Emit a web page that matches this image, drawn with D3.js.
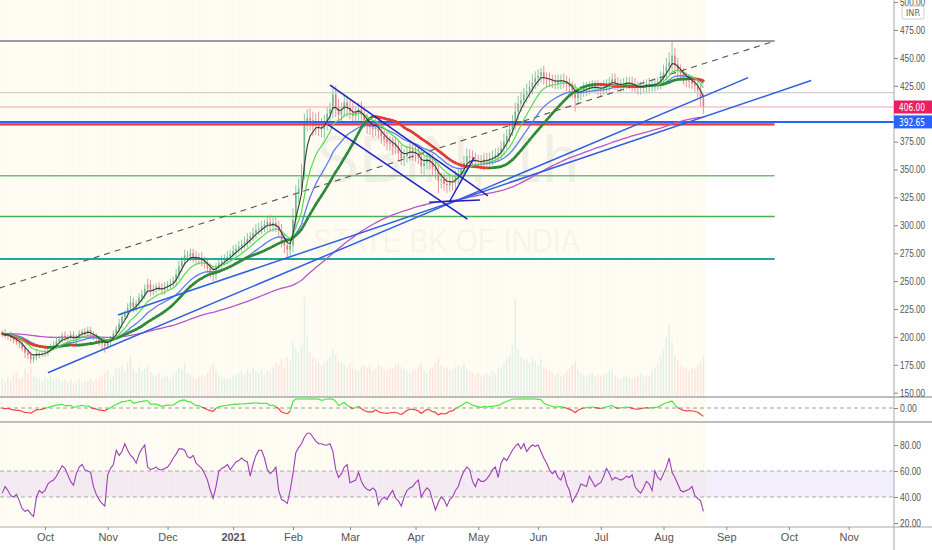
<!DOCTYPE html>
<html><head><meta charset="utf-8">
<script src="https://cdn.jsdelivr.net/npm/d3@7"></script>
<style>
body{margin:0;background:#fff;}
svg{display:block;font-family:"Liberation Sans Narrow","DejaVu Sans Condensed","Liberation Sans",sans-serif;}
</style></head><body>
<svg id="chart" width="932" height="550"></svg>
<script>
// one bar per weekday, from 10 Sep 2020 to 20 Aug 2021
var closes = [
 203,201,202,199,197, 195,194,190,186,184, 180,182,185,184,185,
 186,188,191,193,196, 198,201,199,200,202, 198,200,203,205,204, 206,203,200,199,196,
 194,192,195,198,203, 207,212,218,221,226, 231,227,230,235,238, 243,247,241,243,245,
 244,242,245,247,248, 250,256,263,268,273, 272,275,272,270,271, 268,266,262,259,256,
 262,266,268,270,272, 274,277,279,281,283, 285,288,290,293,296, 297,299,301,303,300,
 302,299,295,286,282, 278,282,305,328,333, 345,392,396,394,389, 393,388,386,392,400,
 404,417,406,399,404, 410,405,402,398,401, 404,399,394,390,388, 386,390,384,380,377,
 374,373,371,370,365, 360,362,365,367,366, 364,361,353,356,359, 357,352,349,340,341,
 337,336,339,338,343, 346,350,356,362,361, 359,358,357,356,359, 358,360,361,363,365,
 369,375,380,386,392, 402,409,412,417,420, 424,428,432,434,437, 432,431,430,429,428,
 429,430,429,427,424, 421,414,418,420,422, 423,424,425,424,423, 422,424,426,428,431,
 427,425,426,427,428, 428,426,424,423,424, 425,426,425,426,427, 428,432,437,442,446,
 452,444,439,436,432, 430,429,427,425,421, 414,406
];
var upperWick = [
 3,4,2,3,3,4,2,3,3,2, 3,2,3,2,3,3,2,3,3,4, 3,3,4,2,3,3,2,3,2,3, 3,3,2,3,2,3,2,3,3,3,
 3,4,4,3,4,6,4,3,4,4, 4,5,4,4,3,4,4,4,3,4, 4,5,5,4,5,4,4,4,5,4, 5,4,5,4,5,4,5,5,4,5,
 4,5,4,5,4,5,5,4,5,5, 5,5,4,5,6,5,5,5,6,5, 6,5,10,8,9,10,8,8,9,8, 7,9,8,7,6,6,9,8,7,6,
 7,6,7,8,6,6,7,8,6,6, 6,6,7,6,6,7,6,6,7,6, 7,6,6,7,6,6,7,6,6,7, 6,7,6,7,6,6,6,7,6,6,
 6,7,6,7,6,6,6,5,6,6, 6,5,6,6,5,6,7,6,7,7, 8,7,7,6,7,6,7,6,6,4, 6,5,6,5,6,6,5,6,5,5,
 5,6,5,5,6,5,5,5,5,6, 5,6,5,5,5,5,6,5,5,5, 5,5,6,5,5,5,5,6,5,5, 5,6,7,8,9,13,7,6,5,5,
 5,5,5,4,5,5,4
];
var lowerWick = [
 3,2,4,3,3,2,4,3,5,4, 4,3,3,3,2,3,3,2,3,2, 2,3,3,4,3,3,4,2,3,3, 3,4,3,3,4,5,6,3,3,2,
 3,3,4,3,4,4,5,4,3,4, 4,4,5,4,4,3,4,4,3,4, 4,4,5,5,4,5,4,5,4,5, 5,5,4,6,6,5,4,5,4,5,
 5,4,5,4,5,4,5,5,4,5, 5,5,5,6,5,6,5,6,6,7, 8,6,6,9,8,6,4,8,9,9, 8,8,7,8,7,7,8,9,8,7,
 7,8,7,8,7,8,6,7,8,7, 7,6,6,7,6,7,6,8,6,7, 6,7,6,7,8,7,6,7,8,6, 7,7,8,11,7,6,7,6,7,6,
 6,6,6,7,6,6,7,6,6,7, 6,6,6,5,6,6,6,7,6,6, 7,8,7,6,7,6,7,6,7,6, 6,7,6,6,6,6,7,6,7,7,
 7,12,6,6,5,6,6,5,6,6, 6,5,6,6,6,6,5,6,6,5, 6,6,5,6,6,5,6,6,5,6, 6,6,6,7,7,8,8,7,6,6,
 6,6,5,6,6,8,6
];
var volumes = [
 18,15,20,16,22,25,18,20,28,24, 30,22,20,18,16,20,18,22,17,19, 20,16,18,15,17,14,16,18,15,17,
 16,18,15,17,20,22,24,26,18,20, 30,28,32,26,35,40,28,24,30,26, 28,32,25,22,20,24,18,20,22,19,
 22,26,30,28,34,24,22,20,18,20, 22,20,24,30,34,26,22,20,18,19, 18,20,22,24,26,22,28,24,30,26,
 24,28,22,26,24,30,34,32,38,30, 40,36,55,48,44,52,100,60,45,40, 38,35,32,34,36,40,48,42,36,34,
 32,30,34,30,28,26,30,32,28,30, 26,28,32,30,28,26,30,28,32,34, 30,28,26,24,26,28,30,34,26,24,
 28,30,34,40,32,28,30,26,28,30, 32,30,34,28,26,24,22,24,20,22, 24,22,26,24,28,30,34,38,42,52,
 98,48,40,36,38,34,40,36,32,38, 30,28,26,24,22,24,20,22,26,28, 32,36,28,24,22,20,22,24,20,22,
 20,22,24,26,28,22,20,18,20,22, 20,18,20,22,24,20,22,20,26,30, 34,40,48,60,72,55,42,36,32,30,
 28,26,30,28,32,36,40
];
var rsiValues = [
 43,48,45,41,40,42,37,31,29,30,27,25,40,45,43,
 45,50,52,53,56,60,64,62,57,52, 49,58,63,65,61,60,59,48,42,38, 35,33,57,62,65,76,72,75,81,76,
 72,70,66,73,77,80,63,61,62,63, 61,61,62,63,66,70,73,77,77,76, 71,70,72,66,64,62,58,53,45,39,
 48,60,62,63,65,61,64,67,68,70, 68,67,56,65,72,76,76,70,61,58, 60,63,45,38,37,35,45,58,74,78,
 81,86,89,89,86,83,81,81,80,80, 81,75,61,55,58,63,65,51,52,53, 59,52,48,46,45,47,45,34,38,40,
 38,42,45,39,37,33,40,45,47,48, 51,53,40,44,47,45,37,30,36,40, 38,33,38,40,45,48,55,60,63,61,
 52,48,54,52,52,54,57,61,63,55, 66,70,68,72,76,79,81,77,81,75, 78,80,79,80,75,70,66,61,58,60,
 55,53,59,50,45,36,40,44,50,49, 48,56,52,48,50,51,56,62,58,53, 55,54,53,54,56,55,57,48,45,43,
 47,52,50,45,60,55,53,58,63,70, 59,55,50,45,44,45,46,48,41,39, 37,29
];
// 400.00 is hidden behind the price tags in the reference
var priceTicks = [150, 175, 200, 225, 250, 275, 300, 325, 350, 375, 425, 450, 475, 500];
var rsiTicks = [20, 40, 60, 80];
// drawings, as [bar, price] pairs
var levelPrices = [465.1, 390.5, 344.3, 307.9, 269.8];
var levelSpan = [-1, 271];
var fullWidthLevels = [418.8, 406.0, 392.65];
var dashedTrend = [-1, 243.8, 271, 465.1];
var supportLines = [[16, 167.9, 261.7, 432.3], [40.6, 219.6, 283.8, 429.7]];
var channelLines = [[115, 425.7, 170.4, 326.3], [114.4, 389.9, 163.2, 305.6], [149.8, 320.6, 167.6, 322.7], [156.9, 321.1, 165.6, 360.9]];
var lastPrice = 406.00, markedLevel = 392.65;

var dates = d3.timeDay.range(new Date(2020, 8, 10), new Date(2021, 10, 20))
	.filter(function(d){ return d.getDay() !== 0 && d.getDay() !== 6; });

var n = closes.length;
var bars = closes.map(function(c, i){
	var o = i ? closes[i-1] : c;
	return {k: i, o: o, c: c, h: Math.max(o, c) + upperWick[i], l: Math.min(o, c) - lowerWick[i], v: volumes[i], up: c >= o};
});

function ema(arr, p){
	var a = 2/(p+1), prev = arr[0];
	return arr.map(function(v, i){ prev = i ? prev + a*(v - prev) : v; return prev; });
}
function sma(arr, p){
	return arr.map(function(v, i){ return d3.mean(arr.slice(Math.max(0, i-p+1), i+1)); });
}
var fast = ema(closes, 4), mid = ema(closes, 10), blueLine = ema(closes, 20), slowLine = sma(closes, 25), longLine = ema(closes, 120);
var osc = closes.map(function(c, i){ return c - mid[i]; });

var W = 894;
var x = d3.scaleLinear().domain([15, 232]).range([45, 663.5]);
var y = d3.scaleLinear().domain([150, 475]).range([392.7, 30]);
var yVol = d3.scaleLinear().domain([0, 100]).range([397, 297]);
var oscSpan = d3.quantile(osc.map(Math.abs).sort(d3.ascending), 0.92);
var yOsc = d3.scaleLinear().domain([-oscSpan, oscSpan]).range([417, 399]).clamp(true);
var yRsi = d3.scaleLinear().domain([20, 80]).range([523, 445]);

var svg = d3.select("#chart");
var defs = svg.append("defs");
defs.append("clipPath").attr("id", "mainClip").append("rect").attr("x", 0).attr("y", 0).attr("width", W).attr("height", 397);
defs.append("clipPath").attr("id", "rsiClip").append("rect").attr("x", 0).attr("y", 422).attr("width", W).attr("height", 105);

// session background
var lastX = x(n - 1) + 3;
svg.append("rect").attr("x", 0).attr("y", 0).attr("width", lastX).attr("height", 527).attr("fill", "#fffcf4");
svg.append("g").selectAll("line").data(bars).enter().append("line")
	.attr("x1", function(d){ return x(d.k); }).attr("x2", function(d){ return x(d.k); })
	.attr("y1", 0).attr("y2", 527)
	.attr("stroke", "#000").attr("stroke-opacity", function(d){ return d.k % 3 ? 0.014 : 0.03; }).attr("stroke-width", 0.6);

// watermark
svg.append("text").attr("x", 447).attr("y", 182).attr("text-anchor", "middle")
	.attr("font-family", "Liberation Sans, Arial, sans-serif").attr("font-size", 66)
	.attr("fill", "#000").attr("fill-opacity", 0.05).text("SBIN, 1h");
svg.append("text").attr("x", 313).attr("y", 252)
	.attr("font-family", "Liberation Sans, Arial, sans-serif").attr("font-size", 33)
	.attr("textLength", 267).attr("lengthAdjust", "spacingAndGlyphs")
	.attr("fill", "#000").attr("fill-opacity", 0.05).text("STATE BK OF INDIA");

var main = svg.append("g").attr("clip-path", "url(#mainClip)");

// volume
main.append("g").selectAll("rect").data(bars).enter().append("rect")
	.attr("x", function(d){ return x(d.k) - 0.8; }).attr("width", 1.6)
	.attr("y", function(d){ return yVol(d.v); })
	.attr("height", function(d){ return yVol(0) - yVol(d.v); })
	.attr("fill", function(d){ return d.up ? "#26a69a" : "#ef5350"; }).attr("fill-opacity", 0.12);

// candles
var candle = main.append("g").selectAll("g").data(bars).enter().append("g");
candle.append("line")
	.attr("x1", function(d){ return x(d.k); }).attr("x2", function(d){ return x(d.k); })
	.attr("y1", function(d){ return y(d.h); }).attr("y2", function(d){ return y(d.l); })
	.attr("stroke", function(d){ return d.up ? "#6fb98c" : "#e07a88"; }).attr("stroke-width", 0.8);
candle.append("rect")
	.attr("x", function(d){ return x(d.k) - 0.8; }).attr("width", 1.6)
	.attr("y", function(d){ return y(Math.max(d.o, d.c)); })
	.attr("height", function(d){ return Math.max(0.8, Math.abs(y(d.o) - y(d.c))); })
	.attr("fill", function(d){ return d.up ? "#6fb98c" : "#e07a88"; });

// levels
main.append("line").attr("x1", 0).attr("x2", W).attr("y1", y(fullWidthLevels[0])).attr("y2", y(fullWidthLevels[0])).attr("stroke", "#c4c4c4").attr("stroke-width", 1);
main.append("line").attr("x1", 0).attr("x2", W).attr("y1", y(fullWidthLevels[1])).attr("y2", y(fullWidthLevels[1])).attr("stroke", "#f3a3b6").attr("stroke-width", 1);
var levelColors = ["#787b86", "#e53935", "#6cbf6c", "#4caf50", "#26a69a"];
var levelWidths = [1.5, 2.2, 1.5, 1.5, 2];
main.append("g").selectAll("line").data(levelPrices).enter().append("line")
	.attr("x1", x(levelSpan[0])).attr("x2", x(levelSpan[1]))
	.attr("y1", function(d){ return y(d); }).attr("y2", function(d){ return y(d); })
	.attr("stroke", function(d, i){ return levelColors[i]; })
	.attr("stroke-width", function(d, i){ return levelWidths[i]; });
main.append("line").attr("x1", 0).attr("x2", W).attr("y1", y(fullWidthLevels[2])).attr("y2", y(fullWidthLevels[2])).attr("stroke", "#2962ff").attr("stroke-width", 2);
main.append("line")
	.attr("x1", x(dashedTrend[0])).attr("y1", y(dashedTrend[1]))
	.attr("x2", x(dashedTrend[2])).attr("y2", y(dashedTrend[3]))
	.attr("stroke", "#555").attr("stroke-width", 1.1).attr("stroke-dasharray", "6,5");

// moving averages
function lineOf(vals){
	return d3.line().x(function(d, i){ return x(i); }).y(function(d){ return y(d); })(vals);
}
main.append("path").attr("d", lineOf(longLine)).attr("fill", "none").attr("stroke", "#b458c8").attr("stroke-width", 1.3);
main.append("path").attr("d", lineOf(blueLine)).attr("fill", "none").attr("stroke", "#5b7fe8").attr("stroke-width", 1.3);
var segs = d3.range(1, n);
main.append("g").selectAll("line").data(segs).enter().append("line")
	.attr("x1", function(i){ return x(i-1); }).attr("y1", function(i){ return y(slowLine[i-1]); })
	.attr("x2", function(i){ return x(i); }).attr("y2", function(i){ return y(slowLine[i]); })
	.attr("stroke", function(i){ return slowLine[i] >= slowLine[i-1] ? "#2e8b3a" : "#e53935"; })
	.attr("stroke-width", 2.6).attr("stroke-linecap", "round");
main.append("path").attr("d", lineOf(mid)).attr("fill", "none").attr("stroke", "#4ee04e").attr("stroke-width", 1.2);
main.append("path").attr("d", lineOf(fast)).attr("fill", "none").attr("stroke", "#3a3a3a").attr("stroke-width", 1.1);

// trend lines
main.append("g").selectAll("line").data(supportLines).enter().append("line")
	.attr("x1", function(d){ return x(d[0]); }).attr("y1", function(d){ return y(d[1]); })
	.attr("x2", function(d){ return x(d[2]); }).attr("y2", function(d){ return y(d[3]); })
	.attr("stroke", "#2f5fe0").attr("stroke-width", 1.5);
main.append("g").selectAll("line").data(channelLines).enter().append("line")
	.attr("x1", function(d){ return x(d[0]); }).attr("y1", function(d){ return y(d[1]); })
	.attr("x2", function(d){ return x(d[2]); }).attr("y2", function(d){ return y(d[3]); })
	.attr("stroke", "#1c22c4").attr("stroke-width", 1.5);

// oscillator pane
svg.append("line").attr("x1", 0).attr("x2", W).attr("y1", yOsc(0)).attr("y2", yOsc(0)).attr("stroke", "#888").attr("stroke-dasharray", "4,3").attr("stroke-width", 0.8);
svg.append("g").selectAll("line").data(segs).enter().append("line")
	.attr("x1", function(i){ return x(i-1); }).attr("y1", function(i){ return yOsc(osc[i-1]); })
	.attr("x2", function(i){ return x(i); }).attr("y2", function(i){ return yOsc(osc[i]); })
	.attr("stroke", function(i){ return osc[i] >= 0 ? "#3ee83e" : "#f03a3a"; })
	.attr("stroke-width", 1.2);

// rsi pane
var rsiG = svg.append("g").attr("clip-path", "url(#rsiClip)");
rsiG.append("rect").attr("x", 0).attr("width", W).attr("y", yRsi(60)).attr("height", yRsi(40) - yRsi(60)).attr("fill", "#8e5bd8").attr("fill-opacity", 0.1);
rsiG.selectAll(".band").data([60, 40]).enter().append("line")
	.attr("x1", 0).attr("x2", W).attr("y1", function(d){ return yRsi(d); }).attr("y2", function(d){ return yRsi(d); })
	.attr("stroke", "#999").attr("stroke-dasharray", "4,3").attr("stroke-width", 0.8);
rsiG.append("path").attr("d", d3.line().x(function(d, i){ return x(i); }).y(function(d){ return yRsi(d); })(rsiValues))
	.attr("fill", "none").attr("stroke", "#9b3fb5").attr("stroke-width", 1.1);

// pane borders
svg.append("line").attr("x1", 0).attr("x2", 932).attr("y1", 397).attr("y2", 397).attr("stroke", "#a8a8a8").attr("stroke-width", 1.3);
svg.append("line").attr("x1", 0).attr("x2", 932).attr("y1", 422).attr("y2", 422).attr("stroke", "#a8a8a8").attr("stroke-width", 1.3);
svg.append("line").attr("x1", 0).attr("x2", 932).attr("y1", 527).attr("y2", 527).attr("stroke", "#a8a8a8").attr("stroke-width", 1);
svg.append("line").attr("x1", W).attr("x2", W).attr("y1", 0).attr("y2", 550).attr("stroke", "#a8a8a8").attr("stroke-width", 1);

// axes
function styleAxis(g){
	g.select(".domain").remove();
	g.selectAll(".tick line").attr("stroke", "#888");
	g.selectAll(".tick text").attr("fill", "#555").attr("font-size", 10.5).attr("font-family", null);
}
function narrow(g){
	g.selectAll(".tick text")
		.attr("textLength", function(){ return this.textContent.length * 4.2; })
		.attr("lengthAdjust", "spacingAndGlyphs");
}
svg.append("g").attr("transform", "translate(" + W + ",0)")
	.call(d3.axisRight(y).tickValues(priceTicks).tickFormat(d3.format(".2f")).tickSize(4).tickPadding(2))
	.call(styleAxis).call(narrow);
svg.append("g").attr("transform", "translate(" + W + ",0)")
	.call(d3.axisRight(yOsc).tickValues([0]).tickFormat(d3.format(".2f")).tickSize(4).tickPadding(2))
	.call(styleAxis).call(narrow);
svg.append("g").attr("transform", "translate(" + W + ",0)")
	.call(d3.axisRight(yRsi).tickValues(rsiTicks).tickFormat(d3.format(".2f")).tickSize(4).tickPadding(2))
	.call(styleAxis).call(narrow);

var monthStarts = d3.range(1, dates.length).filter(function(k){ return dates[k].getMonth() !== dates[k-1].getMonth(); });
var xAxis = svg.append("g").attr("transform", "translate(0,527)")
	.call(d3.axisBottom(x).tickValues(monthStarts).tickSize(3)
		.tickFormat(function(k){ return dates[k].getMonth() === 0 ? d3.timeFormat("%Y")(dates[k]) : d3.timeFormat("%b")(dates[k]); }))
	.call(styleAxis);
xAxis.selectAll(".tick text").attr("font-size", 11).attr("font-weight", function(k){ return dates[k].getMonth() === 0 ? "bold" : null; });

// price labels on the scale
var tags = [[lastPrice, "#e91e63"], [markedLevel, "#2962ff"]];
var tag = svg.append("g").selectAll("g").data(tags).enter().append("g")
	.attr("transform", function(d){ return "translate(" + W + "," + y(d[0]) + ")"; });
tag.append("rect").attr("x", 0).attr("y", -6.5).attr("width", 38).attr("height", 13).attr("fill", function(d){ return d[1]; });
tag.append("text").attr("x", 5).attr("dy", "0.35em").attr("fill", "#fff").attr("font-size", 10.5)
	.attr("textLength", 26).attr("lengthAdjust", "spacingAndGlyphs")
	.text(function(d){ return d[0].toFixed(2); });

// currency badge
svg.append("rect").attr("x", 902).attr("y", 6).attr("width", 22).attr("height", 13).attr("rx", 2).attr("fill", "#fff").attr("stroke", "#cfcfcf");
svg.append("text").attr("x", 913).attr("y", 16).attr("text-anchor", "middle").attr("font-size", 9).attr("fill", "#666").text("INR");
</script>
</body></html>
